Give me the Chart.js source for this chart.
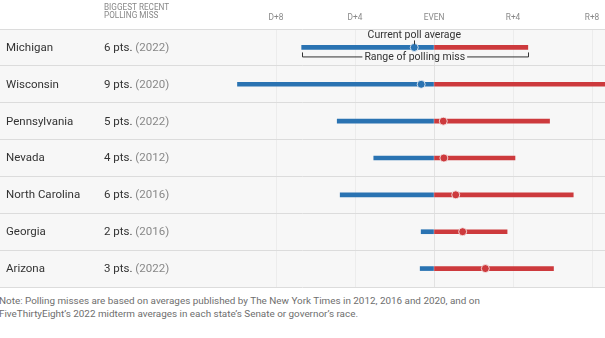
<!DOCTYPE html>
<html>
<head>
<meta charset="utf-8">
<script src="https://cdn.jsdelivr.net/npm/chart.js@4/dist/chart.umd.min.js"></script>
<style>
  html, body { margin: 0; padding: 0; background: #fff; }
  #wrap { position: relative; width: 605px; height: 338px; overflow: hidden; }
  #c { position: absolute; left: 0; top: 0; }
  #note { position: absolute; left: -1px; top: 295px; width: 620px; font: 9.9px Roboto, sans-serif; color: #6e6e6e; line-height: 12.6px; white-space: nowrap; }
</style>
</head>
<body>
<div id="wrap">
  <canvas id="c" width="605" height="290"></canvas>
  <div id="note">Note: Polling misses are based on averages published by The New York Times in 2012, 2016 and 2020, and on<br>FiveThirtyEight’s 2022 midterm averages in each state’s Senate or governor’s race.</div>
</div>
<script>
const states = ['Michigan', 'Wisconsin', 'Pennsylvania', 'Nevada', 'North Carolina', 'Georgia', 'Arizona'];
const missPts = ['6 pts.', '9 pts.', '5 pts.', '4 pts.', '6 pts.', '2 pts.', '3 pts.'];
const missYear = ['(2022)', '(2020)', '(2022)', '(2012)', '(2016)', '(2016)', '(2022)'];
// negative = Democratic lean, positive = Republican lean
const pollAverage = [-1.0, -0.65, 0.47, 0.5, 1.1, 1.45, 2.6];
const rangeLow = [-6.7, -9.95, -4.9, -3.05, -4.75, -0.65, -0.7];
const rangeHigh = [4.75, 8.7, 5.85, 4.1, 7.05, 3.7, 6.05];
const tickValues = [-8, -4, 0, 4, 8];
const tickLabels = ['D+8', 'D+4', 'EVEN', 'R+4', 'R+8'];
const headerLines = ['BIGGEST RECENT', 'POLLING MISS'];
const annotAverage = 'Current poll average';
const annotRange = 'Range of polling miss';

const BLUE = '#2a73b2';
const RED = '#cd3a3d';
const FONT = 'Roboto, sans-serif';

const textPlugin = {
  id: 'textPlugin',
  beforeDraw(chart) {
    const { ctx, chartArea } = chart;
    ctx.save();
    ctx.fillStyle = '#f7f7f7';
    ctx.fillRect(0, chartArea.top, chart.width, chartArea.bottom - chartArea.top);
    ctx.restore();
  },
  afterDraw(chart) {
    const { ctx } = chart;
    const ys = chart.scales.y;
    const xs = chart.scales.x;
    ctx.save();
    ctx.textBaseline = 'middle';
    // header
    ctx.font = '8.2px ' + FONT;
    ctx.fillStyle = '#888';
    ctx.textAlign = 'left';
    headerLines.forEach((t, i) => ctx.fillText(t, 104, 7.5 + i * 8.5));
    // rows
    states.forEach((s, i) => {
      const y = ys.getPixelForValue(i) + 0.5;
      ctx.font = '11.5px ' + FONT;
      ctx.fillStyle = '#333';
      ctx.fillText(s, 6, y);
      ctx.fillText(missPts[i], 104, y);
      const w = ctx.measureText(missPts[i] + ' ').width;
      ctx.fillStyle = '#888';
      ctx.fillText(missYear[i], 104 + w, y);
    });
    // annotations on first row
    const y0 = ys.getPixelForValue(0);
    const xa = xs.getPixelForValue(pollAverage[0]);
    const xl = xs.getPixelForValue(rangeLow[0]);
    const xh = xs.getPixelForValue(rangeHigh[0]);
    ctx.font = '10.5px ' + FONT;
    ctx.fillStyle = '#333';
    ctx.textAlign = 'center';
    ctx.fillText(annotAverage, xa, y0 - 12);
    ctx.strokeStyle = '#333';
    ctx.lineWidth = 1;
    ctx.beginPath();
    ctx.moveTo(Math.round(xa) + 0.5, y0 - 7);
    ctx.lineTo(Math.round(xa) + 0.5, y0 - 3);
    ctx.stroke();
    const xm = (xl + xh) / 2;
    const ty = y0 + 10;
    ctx.fillText(annotRange, xm, ty);
    const tw = ctx.measureText(annotRange).width / 2 + 2;
    ctx.beginPath();
    ctx.moveTo(Math.round(xl) + 0.5, y0 + 5);
    ctx.lineTo(Math.round(xl) + 0.5, ty - 0.5);
    ctx.lineTo(xm - tw, ty - 0.5);
    ctx.moveTo(xm + tw, ty - 0.5);
    ctx.lineTo(Math.round(xh) + 0.5, ty - 0.5);
    ctx.lineTo(Math.round(xh) + 0.5, y0 + 5);
    ctx.stroke();
    ctx.restore();
  }
};

new Chart(document.getElementById('c'), {
  type: 'bar',
  data: {
    labels: states,
    datasets: [
      {
        label: 'Democratic side',
        data: rangeLow.map(v => [v, 0]),
        backgroundColor: BLUE,
        barThickness: 4,
        grouped: false,
        order: 2
      },
      {
        label: 'Republican side',
        data: rangeHigh.map(v => [0, v]),
        backgroundColor: RED,
        barThickness: 4,
        grouped: false,
        order: 2
      },
      {
        type: 'line',
        label: 'Current poll average',
        data: pollAverage.map((v, i) => ({ x: v, y: states[i] })),
        showLine: false,
        pointRadius: 4,
        pointBorderWidth: 0.8,
        pointBorderColor: '#f7f7f7',
        pointBackgroundColor: pollAverage.map(v => v < 0 ? BLUE : RED),
        order: 0
      }
    ]
  },
  options: {
    indexAxis: 'y',
    responsive: false,
    animation: false,
    layout: { autoPadding: false, padding: { top: 10, bottom: 3, left: 0, right: 0 } },
    plugins: { legend: { display: false }, tooltip: { enabled: false } },
    scales: {
      x: {
        type: 'linear',
        position: 'top',
        min: -21.975,
        max: 8.658,
        afterBuildTicks(scale) { scale.ticks = tickValues.map(v => ({ value: v })); },
        afterFit(scale) { scale.height = 19; scale.paddingLeft = 0; scale.paddingRight = 0; },
        ticks: {
          callback: (v) => tickLabels[tickValues.indexOf(v)],
          font: { family: FONT, size: 8.3 },
          color: '#888',
          padding: 6,
          maxRotation: 0,
          autoSkip: false
        },
        grid: {
          drawTicks: false,
          color: (c) => c.tick && c.tick.value === 0 ? '#e2e2e2' : '#ececec',
          lineWidth: 1
        },
        border: { display: false }
      },
      y: {
        type: 'category',
        position: 'left',
        afterFit(scale) { scale.width = 0; scale.paddingTop = 0; scale.paddingBottom = 0; },
        ticks: { display: false },
        grid: { offset: true, drawTicks: false, color: '#dcdcdc' },
        border: { display: false }
      }
    }
  },
  plugins: [textPlugin]
});
</script>
</body>
</html>
